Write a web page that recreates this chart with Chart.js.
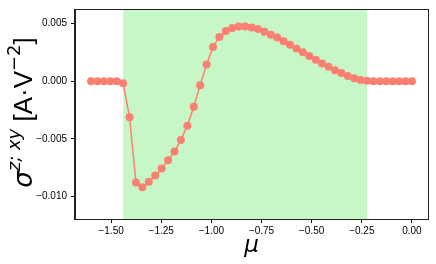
<!DOCTYPE html>
<html>
<head>
<meta charset="utf-8">
<script src="https://cdn.jsdelivr.net/npm/chart.js@4/dist/chart.umd.min.js"></script>
<style>
  body { margin: 0; background: #fff; }
  #wrap { width: 436px; height: 264px; }
</style>
</head>
<body>
<div id="wrap"><canvas id="sigmaChart" width="436" height="264"></canvas></div>
<script>
// chemical potential mu (x) and conductivity sigma^{z;xy} (y)
const muValues = [
  -1.600, -1.568, -1.536, -1.504, -1.472, -1.440, -1.408, -1.376, -1.344, -1.312,
  -1.280, -1.248, -1.216, -1.184, -1.152, -1.120, -1.088, -1.056, -1.024, -0.992,
  -0.960, -0.928, -0.896, -0.864, -0.832, -0.800, -0.768, -0.736, -0.704, -0.672,
  -0.640, -0.608, -0.576, -0.544, -0.512, -0.480, -0.448, -0.416, -0.384, -0.352,
  -0.320, -0.288, -0.256, -0.224, -0.192, -0.160, -0.128, -0.096, -0.064, -0.032,
  0.000
];
const sigmaValues = [
  0, 0, 0, 0, 0, -0.00017, -0.00313, -0.00878, -0.00918, -0.00872,
  -0.00816, -0.00756, -0.00686, -0.00610, -0.00509, -0.00386, -0.00222, -0.00034, 0.00145, 0.00296,
  0.00384, 0.00435, 0.00460, 0.00475, 0.00475, 0.00466, 0.00452, 0.00429, 0.00403, 0.00378,
  0.00347, 0.00315, 0.00284, 0.00250, 0.00219, 0.00185, 0.00153, 0.00125, 0.00096, 0.00071,
  0.00045, 0.00026, 0.00011, 0.00003, 0, 0, 0, 0, 0, 0,
  0
];
// shaded window
const spanStart = [-1.44];
const spanEnd = [-0.224];

const xTicks = [-1.5, -1.25, -1.0, -0.75, -0.5, -0.25, 0.0];
const yTicks = [-0.010, -0.005, 0.000, 0.005];
const xLimits = [-1.68, 0.08];
const yLimits = [-0.01194, 0.00617];

const xTitle = "μ";
const yTitleParts = [
  { text: "σ", sup: false, italic: true },
  { text: "z; xy", sup: true, italic: true },
  { text: " [A·V", sup: false, italic: false },
  { text: "−2", sup: true, italic: false },
  { text: "]", sup: false, italic: false },
];

const fmt = (v, d) => v.toFixed(d).replace("-", "−").replace(/^−(0\.0+)$/, "$1");

const spanPlugin = {
  id: "span",
  beforeDatasetsDraw(chart) {
    const { ctx, chartArea, scales } = chart;
    ctx.save();
    ctx.fillStyle = "rgba(144,238,144,0.5)";
    spanStart.forEach((s, i) => {
      const x0 = scales.x.getPixelForValue(s);
      const x1 = scales.x.getPixelForValue(spanEnd[i]);
      ctx.fillRect(x0, chartArea.top, x1 - x0, chartArea.bottom - chartArea.top);
    });
    ctx.restore();
  },
};

const framePlugin = {
  id: "frame",
  afterDraw(chart) {
    const { ctx, chartArea } = chart;
    ctx.save();
    ctx.strokeStyle = "#222";
    ctx.lineWidth = 1;
    ctx.strokeRect(chartArea.left - 0.5, chartArea.top - 0.5,
      chartArea.right - chartArea.left + 1, chartArea.bottom - chartArea.top + 1);

    // x title
    ctx.fillStyle = "#000";
    ctx.font = "italic 23px 'DejaVu Sans'";
    ctx.textAlign = "center";
    ctx.textBaseline = "alphabetic";
    ctx.fillText(xTitle, (chartArea.left + chartArea.right) / 2, 252);

    // y title, rotated
    const big = 26, small = 18;
    const fontOf = (p) => (p.italic ? "italic " : "") + (p.sup ? small : big) + "px " +
      (p.italic || p.sup ? "'DejaVu Sans'" : "'Liberation Sans'");
    let total = 0;
    yTitleParts.forEach((p) => { ctx.font = fontOf(p); total += ctx.measureText(p.text).width; });
    ctx.translate(32, (chartArea.top + chartArea.bottom) / 2 - 2);
    ctx.rotate(-Math.PI / 2);
    ctx.textAlign = "left";
    let x = -total / 2;
    yTitleParts.forEach((p) => {
      ctx.font = fontOf(p);
      ctx.fillText(p.text, x, p.sup ? -12 : 0);
      x += ctx.measureText(p.text).width;
    });
    ctx.restore();
  },
};

const tickFont = { family: "'Liberation Sans', Arial, sans-serif", size: 10 };

new Chart(document.getElementById("sigmaChart").getContext("2d"), {
  type: "scatter",
  data: {
    datasets: [
      {
        data: muValues.map((m, i) => ({ x: m, y: sigmaValues[i] })),
        showLine: true,
        borderColor: "#fa8072",
        backgroundColor: "#fa8072",
        borderWidth: 1.5,
        pointRadius: 4,
        pointBorderWidth: 0,
      },
    ],
  },
  options: {
    responsive: false,
    animation: false,
    layout: { padding: { top: 7, right: 8, left: 0, bottom: 0 } },
    plugins: { legend: { display: false }, tooltip: { enabled: false } },
    scales: {
      x: {
        type: "linear",
        min: xLimits[0],
        max: xLimits[1],
        afterBuildTicks: (s) => { s.ticks = xTicks.map((v) => ({ value: v })); },
        afterFit: (s) => { s.height = 45; },
        ticks: { color: "#000", font: tickFont, padding: 2, maxRotation: 0,
          callback: (v) => fmt(v, 2) },
        grid: { drawOnChartArea: false, tickLength: 4, tickColor: "#000" },
        border: { color: "#222" },
      },
      y: {
        type: "linear",
        min: yLimits[0],
        max: yLimits[1],
        afterBuildTicks: (s) => { s.ticks = yTicks.map((v) => ({ value: v })); },
        afterFit: (s) => { s.width = 75; },
        ticks: { color: "#000", font: tickFont, padding: 4,
          callback: (v) => fmt(v, 3) },
        grid: { drawOnChartArea: false, tickLength: 4, tickColor: "#000" },
        border: { color: "#222" },
      },
    },
  },
  plugins: [spanPlugin, framePlugin],
});
</script>
</body>
</html>
